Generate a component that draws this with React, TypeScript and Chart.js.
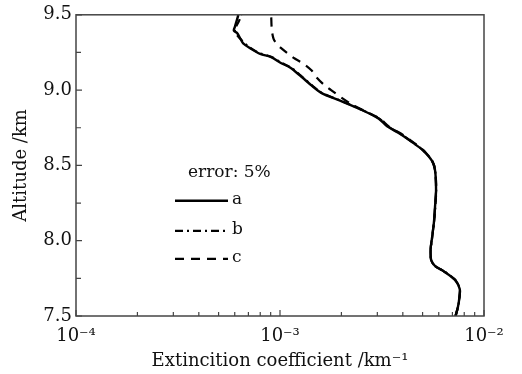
import React, { useEffect, useRef } from "react";
import { Chart, registerables } from "chart.js";

Chart.register(...registerables);

// Retrieved extinction profiles (altitude in km, extinction in km^-1)
const altA = [7.5, 7.56, 7.62, 7.68, 7.74, 7.8, 7.83, 7.87, 7.94, 8.01, 8.12, 8.22, 8.34, 8.47, 8.53, 8.6, 8.65, 8.71, 8.76, 8.81, 8.87, 8.93, 8.98, 9.03, 9.09, 9.15, 9.18, 9.22, 9.24, 9.28, 9.31, 9.34, 9.38, 9.395, 9.42, 9.49, 9.5];
const extA = [0.00725, 0.00745, 0.00757, 0.0076, 0.00721, 0.0063, 0.00578, 0.00551, 0.00547, 0.00555, 0.00568, 0.00575, 0.00582, 0.00575, 0.00556, 0.00502, 0.00449, 0.00387, 0.00335, 0.00305, 0.0025, 0.00197, 0.0016, 0.00143, 0.00127, 0.00112, 0.00101, 0.0009, 0.0008, 0.00071, 0.00066, 0.00064, 0.000615, 0.000594, 0.000601, 0.000622, 0.000624];

const altB = [7.5, 7.56, 7.62, 7.68, 7.74, 7.8, 7.83, 7.87, 7.94, 8.01, 8.12, 8.22, 8.34, 8.47, 8.53, 8.6, 8.65, 8.71, 8.76, 8.81, 8.87, 8.93, 8.98, 9.03, 9.09, 9.15, 9.18, 9.22, 9.25, 9.29, 9.33, 9.37, 9.4, 9.42, 9.46, 9.5];
const extB = [0.00726, 0.00746, 0.00758, 0.00761, 0.00722, 0.00632, 0.00579, 0.00552, 0.00548, 0.00556, 0.00569, 0.00577, 0.00583, 0.00576, 0.00557, 0.00504, 0.0045, 0.00389, 0.00337, 0.00307, 0.00251, 0.00198, 0.00161, 0.00144, 0.00128, 0.00113, 0.00102, 0.00091, 0.00078, 0.0007, 0.00065, 0.000612, 0.0006, 0.000608, 0.00063, 0.000645];

const altC = [7.5, 7.56, 7.62, 7.68, 7.74, 7.8, 7.83, 7.87, 7.94, 8.01, 8.12, 8.22, 8.34, 8.47, 8.53, 8.6, 8.65, 8.71, 8.76, 8.81, 8.86, 8.9, 8.95, 9.0, 9.03, 9.08, 9.13, 9.17, 9.21, 9.24, 9.28, 9.31, 9.34, 9.4, 9.5];
const extC = [0.00725, 0.00745, 0.00757, 0.0076, 0.00721, 0.0063, 0.00578, 0.00551, 0.00547, 0.00555, 0.00568, 0.00575, 0.00582, 0.00575, 0.00557, 0.00505, 0.00454, 0.00393, 0.0034, 0.00309, 0.00262, 0.00228, 0.002, 0.00178, 0.00166, 0.00152, 0.00143, 0.00132, 0.00118, 0.0011, 0.00101, 0.00096, 0.00093, 0.000912, 0.000905];

const seriesLabels = ["a", "b", "c"];
const legendTitle = "error: 5%";

// Axis ticks
const xTickValues = [
  1e-4, 2e-4, 3e-4, 4e-4, 5e-4, 6e-4, 7e-4, 8e-4, 9e-4,
  1e-3, 2e-3, 3e-3, 4e-3, 5e-3, 6e-3, 7e-3, 8e-3, 9e-3,
  1e-2,
];
const xMajorValues = [1e-4, 1e-3, 1e-2];
const xMajorLabels = ["10\u207B\u2074", "10\u207B\u00B3", "10\u207B\u00B2"];
const yTickValues = [7.5, 7.75, 8.0, 8.25, 8.5, 8.75, 9.0, 9.25, 9.5];
const yMajorValues = [7.5, 8.0, 8.5, 9.0, 9.5];

const FONT = "'DejaVu Serif', serif";
const INK = "#111";
const FRAME = "#444";

const toPoints = (alt: number[], ext: number[]) =>
  alt.map((y, i) => ({ x: ext[i], y }));

const isMajorX = (v: number) => xMajorValues.some((m) => Math.abs(m - v) / m < 1e-6);
const isMajorY = (v: number) => yMajorValues.some((m) => Math.abs(m - v) < 1e-6);

const frameAndLegend = {
  id: "frameAndLegend",
  afterDatasetsDraw(chart: any) {
    const { ctx, chartArea: ca, scales } = chart;
    const xs = scales.x;
    const ys = scales.y;
    ctx.save();
    // frame
    ctx.strokeStyle = FRAME;
    ctx.lineWidth = 1.5;
    ctx.strokeRect(ca.left, ca.top, ca.right - ca.left, ca.bottom - ca.top);
    // inward tick marks
    ctx.lineWidth = 1.2;
    ctx.beginPath();
    xs.ticks.forEach((t: any) => {
      const px = xs.getPixelForValue(t.value);
      const len = isMajorX(t.value) ? 6 : 4;
      ctx.moveTo(px, ca.bottom);
      ctx.lineTo(px, ca.bottom - len);
    });
    ys.ticks.forEach((t: any) => {
      const py = ys.getPixelForValue(t.value);
      const len = isMajorY(t.value) ? 6 : 5;
      ctx.moveTo(ca.left, py);
      ctx.lineTo(ca.left + len, py);
    });
    ctx.stroke();

    // legend
    ctx.fillStyle = INK;
    ctx.font = `17px ${FONT}`;
    ctx.textBaseline = "middle";
    ctx.textAlign = "left";
    ctx.fillText(legendTitle, ca.left + 112, ca.top + 158);
    const rows = [186, 216, 244];
    seriesLabels.forEach((lab, i) => {
      const ds = chart.data.datasets.find((d: any) => d.label === lab);
      const y = ca.top + rows[i];
      ctx.save();
      ctx.strokeStyle = ds.borderColor;
      ctx.lineWidth = ds.borderWidth;
      ctx.setLineDash(ds.borderDash || []);
      ctx.beginPath();
      ctx.moveTo(ca.left + 99, y);
      ctx.lineTo(ca.left + 152, y);
      ctx.stroke();
      ctx.restore();
      ctx.fillText(lab, ca.left + 156, y - 1);
    });
    ctx.restore();
  },
};

export default function App() {
  const ref = useRef<HTMLCanvasElement | null>(null);

  useEffect(() => {
    if (!ref.current) return;
    const chart = new Chart(ref.current, {
      type: "scatter",
      data: {
        datasets: [
          {
            label: "c",
            data: toPoints(altC, extC),
            showLine: true,
            borderColor: "#000",
            borderWidth: 2.2,
            borderDash: [9, 7],
            pointRadius: 0,
            tension: 0.3,
          },
          {
            label: "b",
            data: toPoints(altB, extB),
            showLine: true,
            borderColor: "#000",
            borderWidth: 2.2,
            borderDash: [8, 4, 2, 4],
            pointRadius: 0,
            tension: 0.3,
          },
          {
            label: "a",
            data: toPoints(altA, extA),
            showLine: true,
            borderColor: "#000",
            borderWidth: 2.4,
            pointRadius: 0,
            tension: 0.3,
          },
        ],
      },
      options: {
        animation: false,
        responsive: false,
        devicePixelRatio: 1,
        layout: { padding: { top: 13, right: 38, bottom: 0, left: 0 } },
        plugins: { legend: { display: false }, tooltip: { enabled: false } },
        scales: {
          x: {
            type: "logarithmic",
            min: 1e-4,
            max: 1e-2,
            grid: { display: false, drawTicks: false },
            border: { display: false },
            afterBuildTicks: (scale: any) => {
              scale.ticks = xTickValues.map((value) => ({ value, major: isMajorX(value) }));
            },
            afterFit: (scale: any) => {
              scale.height = 58;
            },
            ticks: {
              autoSkip: false,
              maxRotation: 0,
              padding: 10,
              color: INK,
              font: { family: FONT, size: 18 },
              callback: (value: any) => {
                const idx = xMajorValues.findIndex((m) => Math.abs(m - value) / m < 1e-6);
                return idx >= 0 ? xMajorLabels[idx] : "";
              },
            },
            title: {
              display: true,
              text: "Extincition coefficient /km\u207B\u00B9",
              color: INK,
              font: { family: FONT, size: 18 },
              padding: { top: 0, bottom: 2 },
            },
          },
          y: {
            type: "linear",
            min: 7.5,
            max: 9.5,
            grid: { display: false, drawTicks: false },
            border: { display: false },
            afterBuildTicks: (scale: any) => {
              scale.ticks = yTickValues.map((value) => ({ value }));
            },
            afterFit: (scale: any) => {
              scale.width = 76;
            },
            ticks: {
              autoSkip: false,
              padding: 4,
              color: INK,
              font: { family: FONT, size: 18 },
              callback: (value: any) => (isMajorY(Number(value)) ? Number(value).toFixed(1) : ""),
            },
            title: {
              display: true,
              text: "Altitude /km",
              color: INK,
              font: { family: FONT, size: 18 },
              padding: { top: 11, bottom: 0 },
            },
          },
        },
      },
      plugins: [frameAndLegend],
    });
    return () => chart.destroy();
  }, []);

  return (
    <div style={{ position: "fixed", left: 0, top: 0, width: 522, height: 374, background: "#fff" }}>
      <canvas ref={ref} width={522} height={374} style={{ width: 522, height: 374 }} />
    </div>
  );
}
